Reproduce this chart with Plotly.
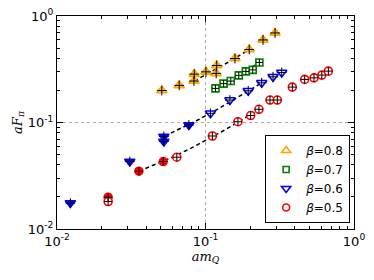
import plotly.graph_objects as go

# ---- data ----
b08_x = [0.0508, 0.0665, 0.0836, 0.0840, 0.1007, 0.118, 0.119, 0.158, 0.197, 0.244, 0.294]
b08_y = [0.1995, 0.223, 0.245, 0.2845, 0.299, 0.289, 0.343, 0.399, 0.485, 0.596, 0.693]
b08_f = [0, 0, 0, 0, 0, 0, 0, 0, 0, 0, 0]

b07_x = [0.1167, 0.1324, 0.148, 0.1675, 0.187, 0.208, 0.2306]
b07_y = [0.209, 0.232, 0.245, 0.277, 0.302, 0.312, 0.366]
b07_f = [0, 0, 0, 0, 0, 0, 0]

b06_x = [0.0123, 0.0309, 0.0524, 0.0524, 0.0773, 0.108, 0.146, 0.194, 0.239, 0.285, 0.326]
b06_y = [0.0175, 0.0430, 0.0739, 0.0664, 0.0948, 0.122, 0.1625, 0.1986, 0.236, 0.2685, 0.295]
b06_f = [1, 1, 1, 1, 1, 0, 0, 0, 0, 0, 0]

b05_x = [0.0221, 0.0221, 0.0356, 0.0519, 0.0641, 0.1113, 0.1654, 0.2014, 0.229, 0.2718,
         0.3045, 0.3843, 0.4656, 0.538, 0.607, 0.672]
b05_y = [0.0199, 0.0181, 0.0349, 0.0430, 0.0472, 0.0747, 0.1017, 0.1163, 0.133, 0.1625,
         0.1625, 0.215, 0.2538, 0.2627, 0.2786, 0.3036]
b05_f = [1, 0, 1, 1, 0, 0, 0, 0, 0, 0, 0, 0, 0, 0, 0, 0]

# dashed fit lines
fit08_x = [0.084, 0.10, 0.12, 0.14, 0.16, 0.18, 0.20]
fit08_y = [0.245, 0.279, 0.321, 0.364, 0.406, 0.449, 0.491]
fit07_x = [0.1167, 0.14, 0.16, 0.18, 0.20, 0.2306]
fit07_y = [0.209, 0.241, 0.268, 0.296, 0.324, 0.366]
fit06_x = [0.053, 0.07, 0.09, 0.12, 0.15, 0.18, 0.21, 0.239]
fit06_y = [0.0745, 0.0892, 0.1066, 0.1327, 0.1588, 0.1848, 0.2109, 0.236]
fit05_x = [0.0356, 0.045, 0.06, 0.08, 0.10, 0.13, 0.16, 0.20, 0.229]
fit05_y = [0.0349, 0.0397, 0.0473, 0.0574, 0.0676, 0.0828, 0.0980, 0.1183, 0.1330]

legend_labels = ["<i>β</i>=0.8", "<i>β</i>=0.7", "<i>β</i>=0.6", "<i>β</i>=0.5"]
tick_vals = [0.01, 0.1, 1]
tick_text = ["10<sup>-2</sup>", "10<sup>-1</sup>", "10<sup>0</sup>"]

series = [
    (b08_x, b08_y, b08_f, fit08_x, fit08_y, "#FFA500", "triangle-up", 9),
    (b07_x, b07_y, b07_f, fit07_x, fit07_y, "#008000", "square", 7),
    (b06_x, b06_y, b06_f, fit06_x, fit06_y, "#0000FF", "triangle-down", 9),
    (b05_x, b05_y, b05_f, fit05_x, fit05_y, "#FF0000", "circle", 8),
]

fig = go.Figure()

# dashed fit lines first (below markers)
for xs, ys, fs, fx, fy, col, sym, sz in series:
    fig.add_trace(go.Scatter(x=fx, y=fy, mode="lines", showlegend=False,
                             line=dict(color="black", width=1.5, dash="4px,3px"),
                             hoverinfo="skip"))

for (xs, ys, fs, fx, fy, col, sym, sz), lab in zip(series, legend_labels):
    ox = [x for x, f in zip(xs, fs) if not f]
    oy = [y for y, f in zip(ys, fs) if not f]
    fx_ = [x for x, f in zip(xs, fs) if f]
    fy_ = [y for y, f in zip(ys, fs) if f]
    fill = "rgba(255,190,80,0.85)" if col == "#FFA500" else "white"
    if fx_:
        fig.add_trace(go.Scatter(x=fx_, y=fy_, mode="markers", showlegend=False,
                                 marker=dict(symbol=sym, size=sz, color=col,
                                             line=dict(color=col, width=1.5))))
    if ox:
        fig.add_trace(go.Scatter(x=ox, y=oy, mode="markers", showlegend=False,
                                 marker=dict(symbol=sym, size=sz, color=fill,
                                             line=dict(color=col, width=1.6))))
    fig.add_trace(go.Scatter(x=xs, y=ys, mode="markers", showlegend=False,
                             marker=dict(symbol="cross-thin", size=sz - 2,
                                         line=dict(color="black", width=1))))
    # legend entry
    fig.add_trace(go.Scatter(x=[None], y=[None], mode="markers", name=lab,
                             marker=dict(symbol=sym + "-open", size=sz - 1, color=col,
                                         line=dict(color=col, width=1.6))))

axis_common = dict(
    type="log", range=[-2, 0], tickvals=tick_vals, ticktext=tick_text,
    ticks="inside", ticklen=6, tickwidth=1, tickcolor="black",
    showline=True, linecolor="black", linewidth=1, mirror="allticks",
    showgrid=True, gridcolor="#aaaaaa", griddash="dot", gridwidth=1,
    zeroline=False, automargin=False, ticklabeloverflow="allow",
    minor=dict(ticks="inside", ticklen=3, tickcolor="black", dtick="D1", showgrid=False),
    tickfont=dict(family="DejaVu Sans", size=13, color="black"),
)

fig.update_xaxes(**axis_common,
                 title=dict(text="<i>am</i><sub><i>Q</i></sub>", standoff=2,
                            font=dict(family="DejaVu Serif", size=13, color="black")))
fig.update_yaxes(**axis_common,
                 title=dict(text="<i>aF</i><sub><i>π</i></sub>", standoff=2,
                            font=dict(family="DejaVu Serif", size=13, color="black")))

fig.update_layout(
    width=374, height=280,
    margin=dict(l=57, r=20, t=16, b=51),
    plot_bgcolor="white", paper_bgcolor="white",
    legend=dict(x=0.987, y=0.028, xanchor="right", yanchor="bottom",
                bordercolor="black", borderwidth=1, bgcolor="white",
                font=dict(family="DejaVu Sans", size=12, color="black"),
                itemwidth=30, tracegroupgap=0),
)

# remove the default 8px page margin so the figure sits at the window origin
fig.write_html("out.html", config={"displayModeBar": False},
               post_script="document.body.style.margin='0';")
